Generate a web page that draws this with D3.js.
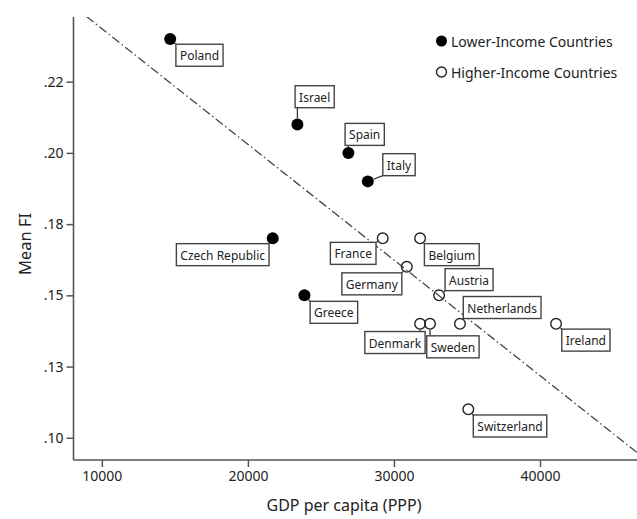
<!DOCTYPE html>
<html>
<head>
<meta charset="utf-8">
<script src="https://cdn.jsdelivr.net/npm/d3@7"></script>
<style>
  html, body { margin: 0; padding: 0; background: #fff; }
  svg { display: block; font-family: "Noto Sans", "DejaVu Sans", sans-serif; }
</style>
</head>
<body>
<svg id="chart" width="637" height="519"></svg>
<script>
// Countries, GDP per capita (PPP) and mean FI
const countries = ["Poland", "Israel", "Spain", "Italy", "Czech Republic", "Greece",
  "France", "Belgium", "Germany", "Austria", "Denmark", "Sweden", "Netherlands",
  "Ireland", "Switzerland"];
const gdp = [14680, 23390, 26880, 28210, 21700, 23870,
  29230, 31790, 30880, 33090, 31790, 32470, 34520,
  41100, 35090];
const meanFI = [0.240, 0.210, 0.200, 0.190, 0.170, 0.150,
  0.170, 0.170, 0.160, 0.150, 0.140, 0.140, 0.140,
  0.140, 0.110];
const incomeGroup = ["Lower", "Lower", "Lower", "Lower", "Lower", "Lower",
  "Higher", "Higher", "Higher", "Higher", "Higher", "Higher", "Higher",
  "Higher", "Higher"];

// Axis ticks
const xTicks = [10000, 20000, 30000, 40000];
const yTicks = [0.100, 0.125, 0.150, 0.175, 0.200, 0.225];
const yTickLabels = [".10", ".13", ".15", ".18", ".20", ".22"];

// Fit line: meanFI = fitIntercept + fitSlope * gdp
const fitIntercept = 0.2842;
const fitSlope = -0.00000406;

// Legend entries
const legendGroups = ["Lower", "Higher"];
const legendLabels = ["Lower-Income Countries", "Higher-Income Countries"];

// Label box placement relative to each point (pixels)
const labelPlacement = {
  "Poland":         { anchor: "start", dx: 5.7,  dy: 5.3 },
  "Israel":         { anchor: "start", dx: -2.3, dy: -38.7 },
  "Spain":          { anchor: "start", dx: -3.3, dy: -29.5 },
  "Italy":          { anchor: "start", dx: 15,   dy: -27.7 },
  "Czech Republic": { anchor: "end",   dx: -3.7, dy: 5.3 },
  "Greece":         { anchor: "start", dx: 5.7,  dy: 6 },
  "France":         { anchor: "end",   dx: -6.7, dy: 4 },
  "Belgium":        { anchor: "start", dx: 4.3,  dy: 5.3 },
  "Germany":        { anchor: "end",   dx: -5,   dy: 6 },
  "Austria":        { anchor: "start", dx: 6,    dy: -26.7 },
  "Netherlands":    { anchor: "start", dx: 3.3,  dy: -27.3 },
  "Denmark":        { anchor: "end",   dx: 5,    dy: 7.7 },
  "Sweden":         { anchor: "start", dx: -3.3, dy: 12 },
  "Ireland":        { anchor: "start", dx: 5.7,  dy: 5.3 },
  "Switzerland":    { anchor: "start", dx: 5,    dy: 5.7 }
};

const svg = d3.select("#chart");
const plot = { left: 73.5, right: 637, top: 17, bottom: 460 };
const axisColor = "#555";
const textColor = "#222";
const R = 6;

const x = d3.scaleLinear().domain([8060, 46640]).range([plot.left, plot.right]);
const y = d3.scaleLinear().domain([0.0922, 0.2477]).range([plot.bottom, plot.top]);

const data = countries.map((c, i) => ({
  name: c, gdp: gdp[i], fi: meanFI[i], group: incomeGroup[i]
}));

svg.append("defs").append("clipPath").attr("id", "plotClip")
  .append("rect")
  .attr("x", plot.left).attr("y", plot.top)
  .attr("width", plot.right - plot.left).attr("height", plot.bottom - plot.top);

// Fit line (dash-dot)
const xd = x.domain();
svg.append("line")
  .attr("clip-path", "url(#plotClip)")
  .attr("x1", x(xd[0])).attr("y1", y(fitIntercept + fitSlope * xd[0]))
  .attr("x2", x(xd[1])).attr("y2", y(fitIntercept + fitSlope * xd[1]))
  .attr("stroke", "#444").attr("stroke-width", 1.3)
  .attr("stroke-dasharray", "9,3,1.5,3");

// Axes
const xAxis = d3.axisBottom(x).tickValues(xTicks).tickSize(7).tickPadding(4)
  .tickFormat(d3.format("d"));
const yAxis = d3.axisLeft(y).tickValues(yTicks).tickSize(7).tickPadding(3)
  .tickFormat((d, i) => yTickLabels[i]);

const gx = svg.append("g").attr("transform", `translate(0,${plot.bottom})`).call(xAxis);
const gy = svg.append("g").attr("transform", `translate(${plot.left},0)`).call(yAxis);
[gx, gy].forEach(g => {
  g.select(".domain").remove();
  g.selectAll(".tick line").attr("stroke", axisColor).attr("stroke-width", 1.5);
  g.selectAll(".tick text").attr("fill", textColor).style("font-size", "14px")
    .style("font-family", "'Noto Sans', sans-serif");
});
svg.append("line")
  .attr("x1", plot.left).attr("x2", plot.right)
  .attr("y1", plot.bottom).attr("y2", plot.bottom)
  .attr("stroke", axisColor).attr("stroke-width", 1.6);
svg.append("line")
  .attr("x1", plot.left).attr("x2", plot.left)
  .attr("y1", plot.top).attr("y2", plot.bottom)
  .attr("stroke", axisColor).attr("stroke-width", 1.6);

// Axis titles
svg.append("text")
  .attr("x", 344).attr("y", 511)
  .attr("text-anchor", "middle")
  .attr("fill", textColor).style("font-size", "16px")
  .text("GDP per capita (PPP)");
svg.append("text")
  .attr("transform", "translate(31,244) rotate(-90)")
  .attr("text-anchor", "middle")
  .attr("fill", textColor).style("font-size", "16.5px")
  .text("Mean FI");

// Label boxes with leader lines
const labelLayer = svg.append("g");
const pointLayer = svg.append("g");
const boxH = 22, padX = 4;

data.forEach(d => {
  const px = x(d.gdp), py = y(d.fi);
  const p = labelPlacement[d.name];
  const g = labelLayer.append("g");
  const t = g.append("text")
    .attr("fill", textColor).style("font-size", "12px")
    .attr("dominant-baseline", "central")
    .text(d.name);
  const tw = t.node().getComputedTextLength();
  const bw = tw + 2 * padX;
  const bx = p.anchor === "start" ? px + p.dx : px + p.dx - bw;
  const by = py + p.dy;
  // leader from the circle edge to the nearest point of the box
  const nx = Math.max(bx, Math.min(px, bx + bw));
  const ny = Math.max(by, Math.min(py, by + boxH));
  const dist = Math.hypot(nx - px, ny - py);
  if (dist > R) {
    const ux = (nx - px) / dist, uy = (ny - py) / dist;
    g.insert("line", "text")
      .attr("x1", px + ux * R).attr("y1", py + uy * R)
      .attr("x2", nx).attr("y2", ny)
      .attr("stroke", "#333").attr("stroke-width", 1.3);
  }
  g.insert("rect", "text")
    .attr("x", bx).attr("y", by).attr("width", bw).attr("height", boxH)
    .attr("fill", "#fff").attr("stroke", "#444").attr("stroke-width", 1.4);
  t.attr("x", bx + padX).attr("y", by + boxH / 2 + 0.5);
});

// Points
pointLayer.selectAll("circle").data(data).join("circle")
  .attr("cx", d => x(d.gdp)).attr("cy", d => y(d.fi))
  .attr("r", d => d.group === "Lower" ? R : R - 0.7)
  .attr("fill", d => d.group === "Lower" ? "#000" : "none")
  .attr("stroke", d => d.group === "Lower" ? "none" : "#222")
  .attr("stroke-width", 1.4);

// Legend
const legend = svg.append("g");
legendGroups.forEach((grp, i) => {
  const ly = 41 + i * 31;
  legend.append("circle")
    .attr("cx", 441.5).attr("cy", ly).attr("r", grp === "Lower" ? 5.5 : 5)
    .attr("fill", grp === "Lower" ? "#000" : "none")
    .attr("stroke", grp === "Lower" ? "none" : "#222").attr("stroke-width", 1.4);
  legend.append("text")
    .attr("x", 451).attr("y", ly + 6)
    .attr("fill", textColor).style("font-size", "14px")
    .text(legendLabels[i]);
});
</script>
</body>
</html>
